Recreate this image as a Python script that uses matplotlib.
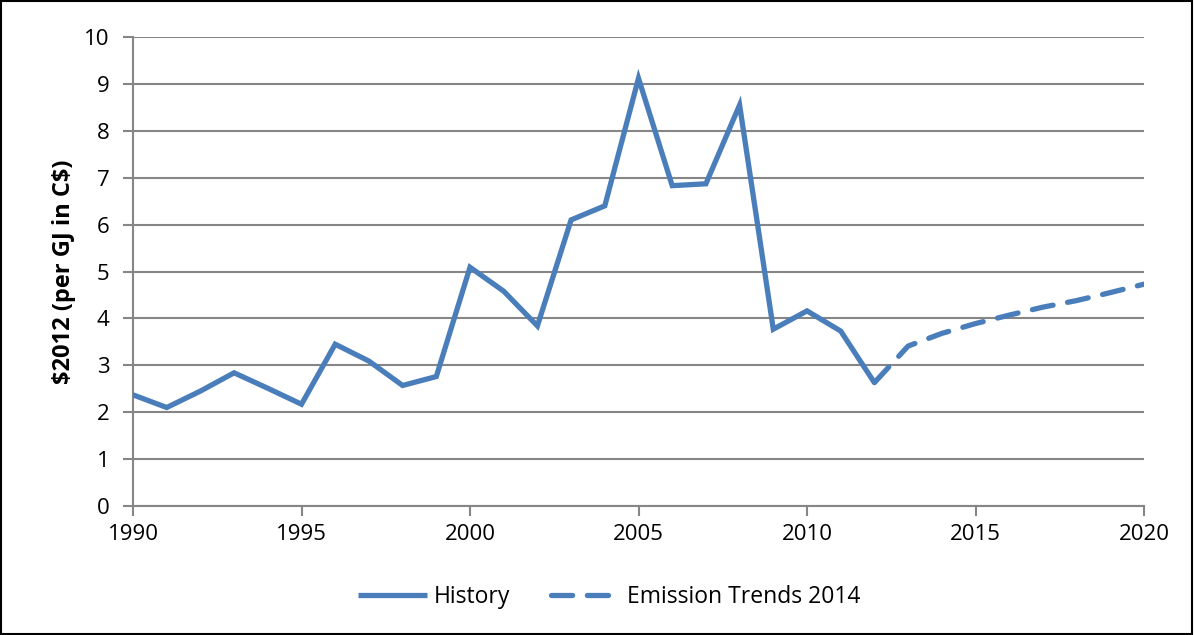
import numpy as np
import matplotlib.pyplot as plt
from matplotlib.patches import Rectangle

hist_years = list(range(1990, 2013))
hist_vals = [2.37, 2.10, 2.45, 2.84, 2.51, 2.17, 3.45, 3.09, 2.57, 2.76,
             5.09, 4.58, 3.84, 6.10, 6.40, 9.12, 6.83, 6.87, 8.55, 3.77,
             4.16, 3.73, 2.63]
proj_years = list(range(2012, 2021))
proj_vals = [2.63, 3.41, 3.68, 3.89, 4.07, 4.24, 4.38, 4.55, 4.73]

blue = '#4a7ebb'
grid = '#868686'

plt.rcParams['font.family'] = ['Open Sans', 'DejaVu Sans']

fig = plt.figure(figsize=(11.94, 6.35), dpi=100)
ax = fig.add_axes([133/1194, 129/635, 1011/1194, 469/635])

ax.plot(hist_years, hist_vals, color=blue, lw=3.8, solid_capstyle='butt',
        solid_joinstyle='miter', label='History', zorder=3)
ax.plot(proj_years, proj_vals, color=blue, lw=3.8, dashes=(4, 2.8),
        dash_capstyle='round', label='Emission Trends 2014', zorder=3)

ax.set_xlim(1990, 2020)
ax.set_ylim(0, 10)
ax.set_xticks(range(1990, 2021, 5))
ax.set_yticks(range(0, 11))
ax.yaxis.grid(True, color=grid, lw=1.5)
ax.set_axisbelow(True)
for s in ['top', 'right']:
    ax.spines[s].set_visible(False)
for s in ['left', 'bottom']:
    ax.spines[s].set_color(grid)
    ax.spines[s].set_linewidth(1.5)
ax.tick_params(colors=grid, labelcolor='black', labelsize=16, length=7, width=1.5)
ax.tick_params(axis='y', pad=10)
ax.tick_params(axis='x', pad=6)
ax.set_ylabel('\\$2012 (per GJ in C\\$)', fontsize=17, fontweight='bold', labelpad=6)

fig.legend(loc='center', bbox_to_anchor=(0.51, 0.06), ncol=2, frameon=False,
           fontsize=16.5, handlelength=3.0, columnspacing=1.8, handletextpad=0.3)

fig.patches.append(Rectangle((0.001, 0.002), 0.997, 0.996, transform=fig.transFigure,
                             fill=False, edgecolor='black', lw=1.5))

fig.savefig('out.png', dpi=100)
